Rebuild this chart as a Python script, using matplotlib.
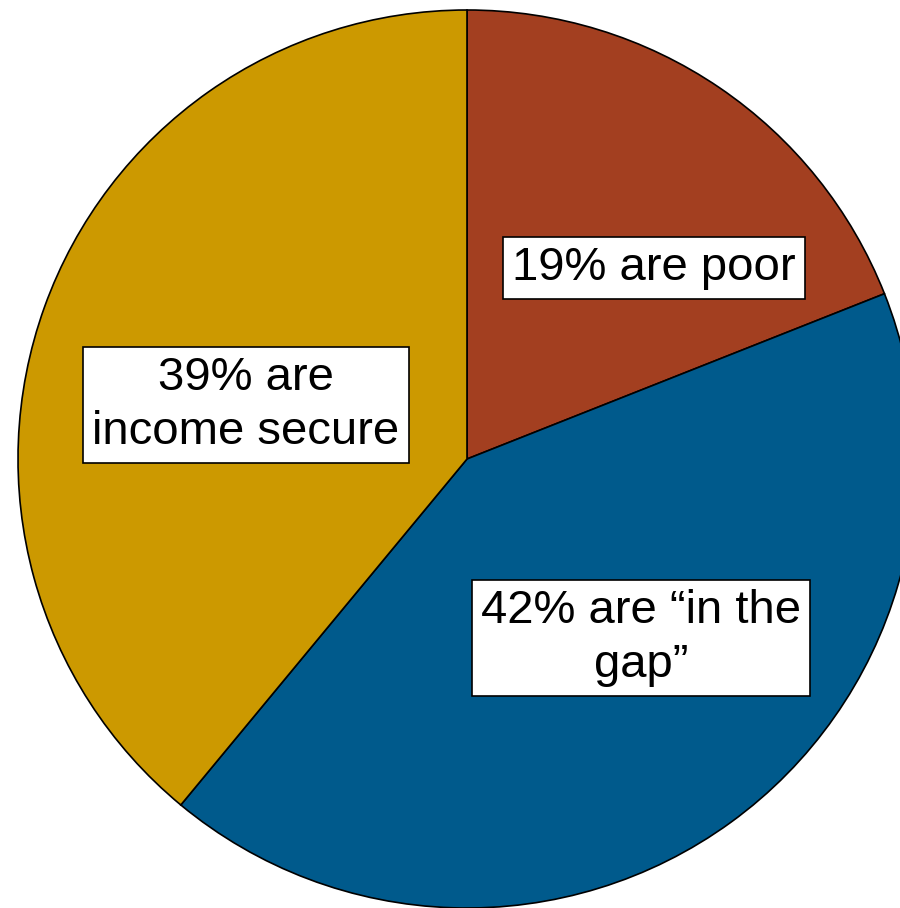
import matplotlib.pyplot as plt

plt.rcParams['font.family'] = ['Liberation Sans', 'DejaVu Sans']

groups = ["poor", "in the gap", "income secure"]
shares = [19, 42, 39]
colours = ["#A33F20", "#005A8C", "#CC9900"]
labels = ["19% are poor", "42% are \u201cin the\ngap\u201d", "39% are\nincome secure"]

# label box centres in pixels (x, y from bottom)
label_pos = [(654, 640), (641, 270), (246, 503)]

fig = plt.figure(figsize=(9, 9.08), dpi=100)
ax = fig.add_axes([0, 0, 1, 1])

ax.pie(shares, colors=colours, startangle=90, counterclock=False,
       center=(467, 449), radius=449,
       wedgeprops=dict(edgecolor="black", linewidth=1.2))

for txt, (x, y) in zip(labels, label_pos):
    ax.text(x, y, txt, ha="center", va="center", fontsize=34,
            linespacing=1.27,
            bbox=dict(boxstyle="square,pad=0.2", facecolor="white",
                      edgecolor="black", linewidth=1.2))

ax.set_xlim(0, 900)
ax.set_ylim(0, 908)
ax.set_aspect("auto")
ax.axis("off")

fig.savefig("out.png", dpi=100)
